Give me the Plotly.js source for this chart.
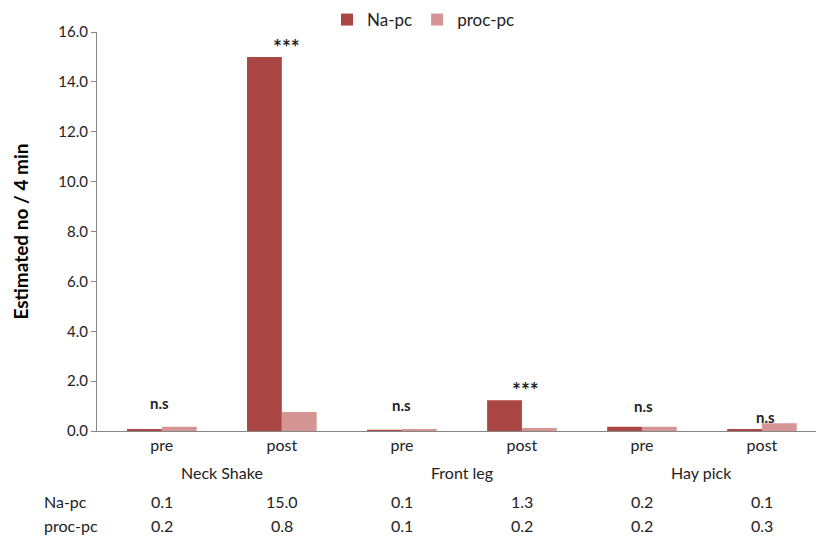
<!DOCTYPE html>
<html>
<head>
<meta charset="utf-8">
<script src="https://cdn.plot.ly/plotly-3.0.1.min.js"></script>
<style>html,body{margin:0;padding:0;background:#fff;}#chart{width:816px;height:536px;}</style>
</head>
<body>
<div id="chart"></div>
<script>
// Data
var categories = ['pre', 'post', 'pre', 'post', 'pre', 'post'];
var groups = ['Neck Shake', 'Front leg', 'Hay pick'];
var naPc = [0.08, 15.0, 0.05, 1.23, 0.17, 0.08];
var procPc = [0.17, 0.76, 0.08, 0.12, 0.17, 0.31];
var tableNa = ['0.1', '15.0', '0.1', '1.3', '0.2', '0.1'];
var tableProc = ['0.2', '0.8', '0.1', '0.2', '0.2', '0.3'];
var sigLabels = ['n.s', '***', 'n.s', '***', 'n.s', 'n.s'];

var idx = categories.map(function (_, i) { return i; });
var FONT = 'Lato, "Open Sans", sans-serif';
var TXT = '#222222';
var FS = 16;

var traces = [
  { type: 'bar', name: 'Na-pc', x: idx, y: naPc, marker: { color: '#AA4643' } },
  { type: 'bar', name: 'proc-pc', x: idx, y: procPc, marker: { color: '#D59693' } }
];

var L = 97, T = 32, W = 816 - 97, H = 399;
function py(p) { return (T + H - p) / H; }
var ann = [];
// significance labels (small horizontal nudges relative to category centre)
var sigDx = [-0.02, 0.04, 0.0, 0.03, 0.01, 0.03];
var sigY = [1.12, 15.4, 1.04, 1.68, 1.0, 0.56];
sigLabels.forEach(function (s, i) {
  ann.push({ x: idx[i] + sigDx[i], y: sigY[i], xref: 'x', yref: 'y', text: '<b>' + s + '</b>', showarrow: false,
    xanchor: 'center', yanchor: 'middle',
    font: { family: FONT, size: s === '***' ? 21 : 15, color: TXT } });
});
// group labels
groups.forEach(function (g, k) {
  ann.push({ x: 2 * k + 0.5, y: py(473), xref: 'x', yref: 'paper', text: g, showarrow: false,
    xanchor: 'center', yanchor: 'middle', font: { family: FONT, size: FS, color: TXT } });
});
// table
var ROW1 = 501, ROW2 = 525;
idx.forEach(function (i) {
  ann.push({ x: i, y: py(ROW1), xref: 'x', yref: 'paper', text: tableNa[i], showarrow: false, borderpad: 0,
    xanchor: 'center', yanchor: 'middle', font: { family: FONT, size: FS, color: TXT } });
  ann.push({ x: i, y: py(ROW2), xref: 'x', yref: 'paper', text: tableProc[i], showarrow: false, borderpad: 0,
    xanchor: 'center', yanchor: 'middle', font: { family: FONT, size: FS, color: TXT } });
});
ann.push({ x: (43 - L) / W, y: py(ROW1), xref: 'paper', yref: 'paper', xanchor: 'left', yanchor: 'middle', borderpad: 0,
  text: 'Na-pc', showarrow: false, font: { family: FONT, size: FS, color: TXT } });
ann.push({ x: (43 - L) / W, y: py(ROW2), xref: 'paper', yref: 'paper', xanchor: 'left', yanchor: 'middle', borderpad: 0,
  text: 'proc-pc', showarrow: false, font: { family: FONT, size: FS, color: TXT } });

var layout = {
  width: 816, height: 536,
  margin: { l: 97, r: 0, t: 32, b: 105, autoexpand: false },
  paper_bgcolor: '#fff', plot_bgcolor: '#fff',
  font: { family: FONT, size: FS, color: TXT },
  barmode: 'group', bargap: 0.42, bargroupgap: 0,
  showlegend: true,
  legend: { orientation: 'h', x: (327 - L) / W, xanchor: 'left', y: py(20), yanchor: 'middle',
    font: { family: FONT, size: 17, color: TXT }, itemwidth: 30, traceorder: 'normal', bgcolor: 'rgba(0,0,0,0)' },
  xaxis: {
    range: [-0.54, 5.45], tickmode: 'array', tickvals: idx, ticktext: categories,
    showline: true, linecolor: '#868686', linewidth: 1, ticks: '', showgrid: false, zeroline: false,
    tickfont: { family: FONT, size: FS, color: TXT }
  },
  yaxis: {
    range: [0, 16], dtick: 2, tick0: 0, tickformat: '.1f',
    showline: true, linecolor: '#868686', linewidth: 1, ticks: 'outside', ticklen: 5, tickcolor: '#868686',
    showgrid: false, zeroline: false,
    tickfont: { family: FONT, size: 15, color: TXT },
    title: { text: '<b>Estimated no / 4 min</b>', font: { family: FONT, size: 19, color: '#000' }, standoff: 24 }
  },
  annotations: ann
};

Plotly.newPlot('chart', traces, layout, { displayModeBar: false, staticPlot: true });
</script>
</body>
</html>
